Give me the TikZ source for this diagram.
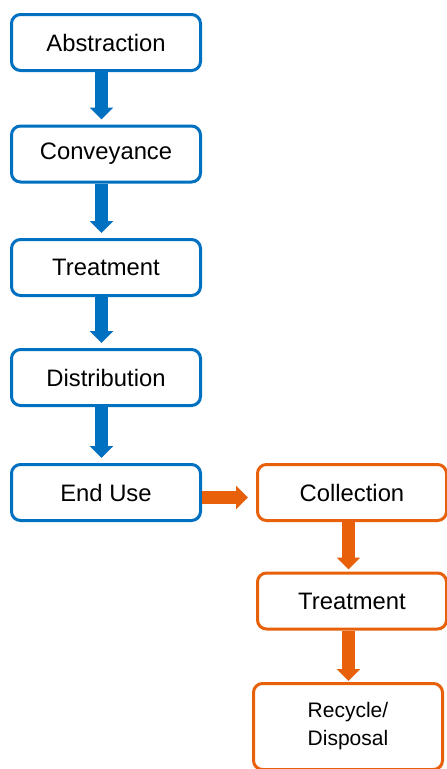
\documentclass[tikz,border=0pt]{standalone}
\usepackage{fontspec}
\setmainfont{Liberation Sans}
\usetikzlibrary{arrows.meta}
\definecolor{waterblue}{RGB}{0,112,192}
\definecolor{wasteorange}{RGB}{232,97,10}
\begin{document}
\begin{tikzpicture}[x=1pt, y=-1pt]
    \tikzset{
      stage/.style={draw, line width=3pt, rounded corners=9pt, fill=white,
        minimum width=189pt, minimum height=56pt, inner sep=0pt,
        font=\fontsize{23.8}{28}\selectfont},
      bluestage/.style={stage, draw=waterblue},
      orangestage/.style={stage, draw=wasteorange},
      flow/.style={line width=12.5pt, -{Triangle[width=23pt,length=12pt]}},
      blueflow/.style={flow, draw=waterblue, fill=waterblue},
      orangeflow/.style={flow, draw=wasteorange, fill=wasteorange}
    }
    \useasboundingbox (0,0) rectangle (447,769);
    % water supply side
    \node [bluestage] (abstr) at (106,42.5) {Abstraction};
    \node [bluestage] (convey) at (106,154) {Conveyance};
    \node [bluestage] (treat) at (106,267.5) {Treatment};
    \node [bluestage] (distr) at (106,377.5) {Distribution};
    \node [bluestage] (enduse) at (106,492.5) {End Use};
    % wastewater side
    \node [orangestage] (collect) at (352,492.5) {Collection};
    \node [orangestage] (wtreat) at (352,601) {Treatment};
    \node [orangestage, minimum height=86pt, align=center,
      font=\fontsize{21}{28}\selectfont] (recycle) at (348,726.5) {Recycle/\\Disposal};
    \draw [blueflow, shorten >=5pt] ([xshift=-4.5pt]abstr.south) -- ([xshift=-4.5pt]convey.north);
    \draw [blueflow, shorten >=5pt] ([xshift=-4.5pt]convey.south) -- ([xshift=-4.5pt]treat.north);
    \draw [blueflow, shorten >=5pt] ([xshift=-4.5pt]treat.south) -- ([xshift=-4.5pt]distr.north);
    \draw [blueflow, shorten >=5pt] ([xshift=-4.5pt]distr.south) -- ([xshift=-4.5pt]enduse.north);
    \draw [orangeflow, shorten >=8pt] ([yshift=-5pt]enduse.east) -- ([yshift=-5pt]collect.west);
    \draw [orangeflow, shorten >=2pt] ([xshift=-3.5pt]collect.south) -- ([xshift=-3.5pt]wtreat.north);
    \draw [orangeflow, shorten >=1pt] ([xshift=-3.5pt]wtreat.south) -- ([xshift=-3.5pt]wtreat.south |- recycle.north);
\end{tikzpicture}
\end{document}
